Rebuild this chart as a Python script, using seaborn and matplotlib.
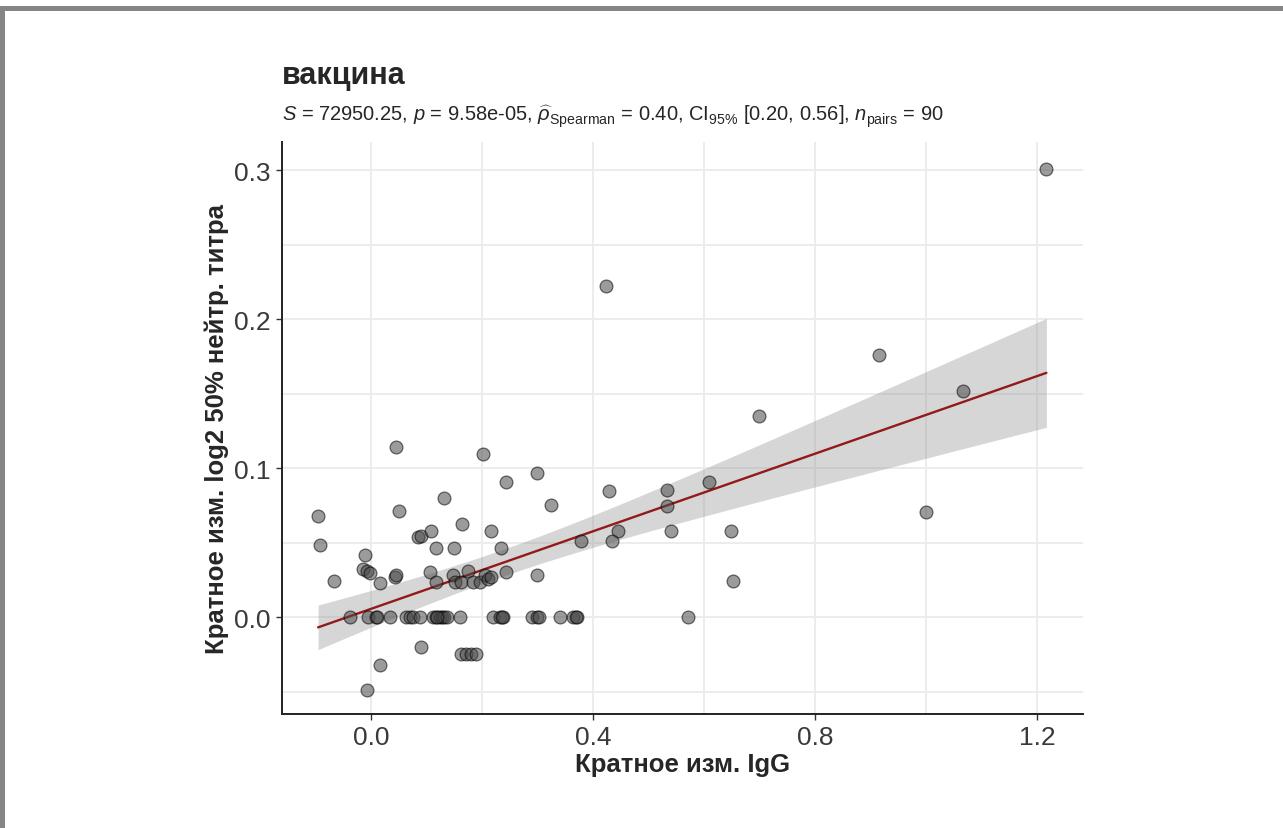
import seaborn as sns
import matplotlib.pyplot as plt
import numpy as np
import pandas as pd
from matplotlib.patches import Rectangle

# fold change IgG (x) vs fold change log2 50% neutralizing titre (y)
igg = [
    -0.095, -0.091, -0.066, -0.038, -0.011, -0.014, -0.007, -0.002, 0.016, 0.043,
    0.046, 0.045, 0.051, -0.005, 0.010, 0.012, 0.034, 0.064, 0.070, 0.076,
    0.088, 0.112, 0.118, 0.124, 0.128, 0.132, 0.137, 0.160, 0.090, 0.016,
    -0.007, 0.085, 0.091, 0.109, 0.118, 0.150, 0.132, 0.165, 0.106, 0.118,
    0.148, 0.151, 0.163, 0.175, 0.184, 0.196, 0.205, 0.211, 0.217, 0.163,
    0.172, 0.181, 0.190, 0.202, 0.243, 0.216, 0.234, 0.244, 0.300, 0.324,
    0.300, 0.220, 0.232, 0.238, 0.236, 0.290, 0.299, 0.303, 0.341, 0.365,
    0.371, 0.369, 0.378, 0.423, 0.429, 0.534, 0.533, 0.540, 0.446, 0.435,
    0.610, 0.700, 0.648, 0.653, 0.572, 0.916, 1.066, 1.000, 1.217, 0.120,
]
titre = [
    0.068, 0.0485, 0.0246, 0.0, 0.042, 0.0325, 0.031, 0.0297, 0.023, 0.027,
    0.028, 0.114, 0.071, 0.0, 0.0, 0.0, 0.0, 0.0, 0.0, 0.0,
    0.0, 0.0, 0.0, 0.0, 0.0, 0.0, 0.0, 0.0, -0.0197, -0.032,
    -0.0486, 0.0537, 0.0548, 0.058, 0.0465, 0.0465, 0.080, 0.0626, 0.030, 0.0235,
    0.028, 0.0235, 0.0235, 0.031, 0.0235, 0.0235, 0.028, 0.0257, 0.027, -0.0246,
    -0.0246, -0.0246, -0.0246, 0.1096, 0.0906, 0.058, 0.0465, 0.030, 0.0968, 0.0754,
    0.0284, 0.0, 0.0, 0.0, 0.0, 0.0, 0.0, 0.0, 0.0, 0.0,
    0.0, 0.0, 0.0514, 0.2226, 0.085, 0.0857, 0.0749, 0.0581, 0.058, 0.0514,
    0.0906, 0.135, 0.058, 0.0246, 0.0, 0.176, 0.152, 0.0709, 0.301, 0.0,
]

x_ticks = [0.0, 0.4, 0.8, 1.2]
x_ticklabels = ["0.0", "0.4", "0.8", "1.2"]
y_ticks = [0.0, 0.1, 0.2, 0.3]
y_ticklabels = ["0.0", "0.1", "0.2", "0.3"]

title = "вакцина"
subtitle = (r"$\mathit{S}$ = 72950.25, $\mathit{p}$ = 9.58e-05, "
            r"$\widehat{\rho}_{\mathrm{Spearman}}$ = 0.40, CI$_{95\%}$ [0.20, 0.56], "
            r"$\mathit{n}_{\mathrm{pairs}}$ = 90")
x_label = "Кратное изм. IgG"
y_label = "Кратное изм. log2 50% нейтр. титра"

df = pd.DataFrame({"igg": igg, "titre": titre})

sns.set_theme(style="white")
plt.rcParams["font.family"] = ["Liberation Sans", "DejaVu Sans"]
plt.rcParams["mathtext.fontset"] = "custom"
plt.rcParams["mathtext.rm"] = "Liberation Sans"
plt.rcParams["mathtext.it"] = "Liberation Sans:italic"
plt.rcParams["mathtext.bf"] = "Liberation Sans:bold"

fig = plt.figure(figsize=(12.83, 8.29), dpi=100)
ax = fig.add_axes([282 / 1283, 1 - 715 / 829, (1083 - 282) / 1283, (715 - 143) / 829])

# lm-style (analytic) 95% confidence band, like ggplot's geom_smooth(method = "lm")
xv = df["igg"].to_numpy()
yv = df["titre"].to_numpy()
n = len(xv)
slope, icpt = np.polyfit(xv, yv, 1)
resid = yv - (icpt + slope * xv)
s_err = np.sqrt((resid ** 2).sum() / (n - 2))
grid = np.linspace(xv.min(), xv.max(), 200)
se_fit = s_err * np.sqrt(1 / n + (grid - xv.mean()) ** 2 / ((xv - xv.mean()) ** 2).sum())
t95 = 1.987  # t quantile, 88 df
fit = icpt + slope * grid
ax.fill_between(grid, fit - t95 * se_fit, fit + t95 * se_fit, color="#999999",
                alpha=0.4, linewidth=0, zorder=2)

sns.regplot(data=df, x="igg", y="titre", scatter=False, ci=None, color="#931a1a",
            line_kws={"linewidth": 1.7, "zorder": 2.5}, ax=ax)
sns.scatterplot(data=df, x="igg", y="titre", s=85, color="#4a4a4a", edgecolor="black",
                linewidth=0.9, alpha=0.55, ax=ax, zorder=3)

ax.set_xlim(-0.16, 1.283)
ax.set_ylim(-0.065, 0.319)
ax.set_xticks(x_ticks)
ax.set_xticklabels(x_ticklabels)
ax.set_yticks(y_ticks)
ax.set_yticklabels(y_ticklabels)
ax.set_xticks([0.2, 0.6, 1.0], minor=True)
ax.set_yticks([-0.05, 0.05, 0.15, 0.25], minor=True)
ax.grid(True, which="both", color="#ebebeb", linewidth=1.3)
ax.set_axisbelow(True)
ax.tick_params(axis="both", which="major", length=4, width=1, color="#333333",
               labelsize=19, labelcolor="#3a3a3a", pad=4, bottom=True, left=True)
ax.tick_params(axis="both", which="minor", length=0)

for side in ["top", "right"]:
    ax.spines[side].set_visible(False)
for side in ["left", "bottom"]:
    ax.spines[side].set_color("#222222")
    ax.spines[side].set_linewidth(1.4)

ax.set_xlabel(x_label, fontsize=18.5, fontweight="bold", labelpad=2)
ax.set_ylabel(y_label, fontsize=18.5, fontweight="bold", labelpad=4)

fig.text(282 / 1283, 1 - 84 / 829, title, fontsize=22, fontweight="bold", va="baseline")
fig.text(282 / 1283, 1 - 122 / 829, subtitle, fontsize=14.5, va="baseline")

# gray frame at top and left edges of the screenshot
fig.add_artist(Rectangle((0, 1 - 12 / 829), 1, 5 / 829, transform=fig.transFigure,
                         color="#858585", lw=0))
fig.add_artist(Rectangle((0, 0), 5 / 1283, 1 - 7 / 829, transform=fig.transFigure,
                         color="#858585", lw=0))

fig.savefig("out.png", dpi=100)
